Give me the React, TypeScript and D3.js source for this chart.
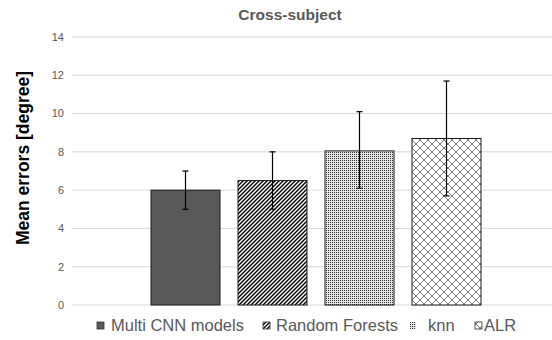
import React, { useEffect, useRef } from 'react';
import * as d3 from 'd3';

const seriesNames = ['Multi CNN models', 'Random Forests', 'knn', 'ALR'];
const meanErrors = [6.0, 6.5, 8.05, 8.7];
const errLow = [5.0, 5.0, 6.1, 5.7];
const errHigh = [7.0, 8.0, 10.1, 11.7];
const yTicks = [0, 2, 4, 6, 8, 10, 12, 14];
const patternIds = ['solid', 'stripes', 'dots', 'cross'];

function App() {
  const ref = useRef<SVGSVGElement>(null);

  useEffect(() => {
    const width = 552;
    const height = 340;
    const margin = { top: 37, right: 0, bottom: 35, left: 72 };

    const svg = d3.select(ref.current);
    svg.selectAll('*').remove();

    // Fill patterns like the Excel original
    const defs = svg.append('defs');
    defs.append('pattern')
      .attr('id', 'stripes')
      .attr('patternUnits', 'userSpaceOnUse')
      .attr('width', 4).attr('height', 4)
      .call(p => {
        p.append('rect').attr('width', 4).attr('height', 4).attr('fill', '#fff');
        p.append('path')
          .attr('d', 'M-1,1 l2,-2 M0,4 l4,-4 M3,5 l2,-2')
          .attr('stroke', '#000').attr('stroke-width', 1.4);
      });
    defs.append('pattern')
      .attr('id', 'dots')
      .attr('patternUnits', 'userSpaceOnUse')
      .attr('width', 2).attr('height', 2)
      .call(p => {
        p.append('rect').attr('width', 2).attr('height', 2).attr('fill', '#e6e6e6');
        p.append('rect').attr('width', 1).attr('height', 1).attr('fill', '#333');
      });
    defs.append('pattern')
      .attr('id', 'cross')
      .attr('patternUnits', 'userSpaceOnUse')
      .attr('width', 8).attr('height', 8)
      .call(p => {
        p.append('rect').attr('width', 8).attr('height', 8).attr('fill', '#fff');
        p.append('path')
          .attr('d', 'M0,0 L8,8 M8,0 L0,8')
          .attr('stroke', '#7a7a7a').attr('stroke-width', 1);
      });
    const fillFor = (i: number) => (i === 0 ? '#595959' : `url(#${patternIds[i]})`);

    const x = d3.scaleBand<string>()
      .domain(seriesNames)
      .range([151, 481])
      .paddingInner(0.207)
      .paddingOuter(0);

    const y = d3.scaleLinear()
      .domain([0, 14])
      .range([height - margin.bottom, margin.top]);

    // Gridlines
    svg.append('g')
      .selectAll('line')
      .data(yTicks)
      .join('line')
      .attr('x1', margin.left)
      .attr('x2', width - margin.right)
      .attr('y1', d => y(d))
      .attr('y2', d => y(d))
      .attr('stroke', '#d9d9d9')
      .attr('stroke-width', 1);

    // Tick labels
    svg.append('g')
      .selectAll('text')
      .data(yTicks)
      .join('text')
      .attr('x', 64)
      .attr('y', d => y(d))
      .attr('dy', '0.35em')
      .attr('text-anchor', 'end')
      .attr('font-family', 'Liberation Sans, Arial, sans-serif')
      .attr('font-size', 11)
      .attr('fill', '#595959')
      .text(d => d);

    // Bars
    svg.append('g')
      .selectAll('rect')
      .data(meanErrors)
      .join('rect')
      .attr('x', (d, i) => x(seriesNames[i])!)
      .attr('y', d => y(d))
      .attr('width', x.bandwidth())
      .attr('height', d => y(0) - y(d))
      .attr('fill', (d, i) => fillFor(i))
      .attr('stroke', '#1a1a1a')
      .attr('stroke-width', 1);

    // Error bars
    const eg = svg.append('g').attr('stroke', '#000').attr('stroke-width', 1.2);
    seriesNames.forEach((s, i) => {
      const cx = x(s)! + x.bandwidth() / 2;
      eg.append('line').attr('x1', cx).attr('x2', cx).attr('y1', y(errLow[i])).attr('y2', y(errHigh[i]));
      eg.append('line').attr('x1', cx - 3).attr('x2', cx + 3).attr('y1', y(errLow[i])).attr('y2', y(errLow[i]));
      eg.append('line').attr('x1', cx - 3).attr('x2', cx + 3).attr('y1', y(errHigh[i])).attr('y2', y(errHigh[i]));
    });

    // Title
    svg.append('text')
      .attr('x', 290)
      .attr('y', 20)
      .attr('text-anchor', 'middle')
      .attr('font-family', 'Liberation Sans, Arial, sans-serif')
      .attr('font-size', 15.5)
      .attr('font-weight', 'bold')
      .attr('fill', '#595959')
      .text('Cross-subject');

    // Y axis label
    svg.append('text')
      .attr('transform', `translate(29,${(y(0) + y(14)) / 2 - 13}) rotate(-90)`)
      .attr('text-anchor', 'middle')
      .attr('font-family', 'Liberation Sans, Arial, sans-serif')
      .attr('font-size', 17.5)
      .attr('font-weight', 'bold')
      .attr('fill', '#000')
      .text('Mean errors [degree]');

    // Legend
    const iconX = [97, 263, 410, 475];
    const textX = [111, 276, 428, 484];
    const lg = svg.append('g');
    seriesNames.forEach((s, i) => {
      lg.append('rect')
        .attr('x', iconX[i])
        .attr('y', 322)
        .attr('width', i === 2 ? 6 : 7)
        .attr('height', 7)
        .attr('fill', fillFor(i))
        .attr('stroke', i === 2 ? 'none' : '#333')
        .attr('stroke-width', 0.8);
      lg.append('text')
        .attr('x', textX[i])
        .attr('y', 331)
        .attr('font-family', 'Liberation Sans, Arial, sans-serif')
        .attr('font-size', 16.5)
        .attr('fill', '#595959')
        .text(s);
    });
  }, []);

  return (
    <>
      <style>{'body{margin:0}'}</style>
      <svg ref={ref} width={552} height={340} style={{ display: 'block', background: '#fff' }}></svg>
    </>
  );
}

export default App;
